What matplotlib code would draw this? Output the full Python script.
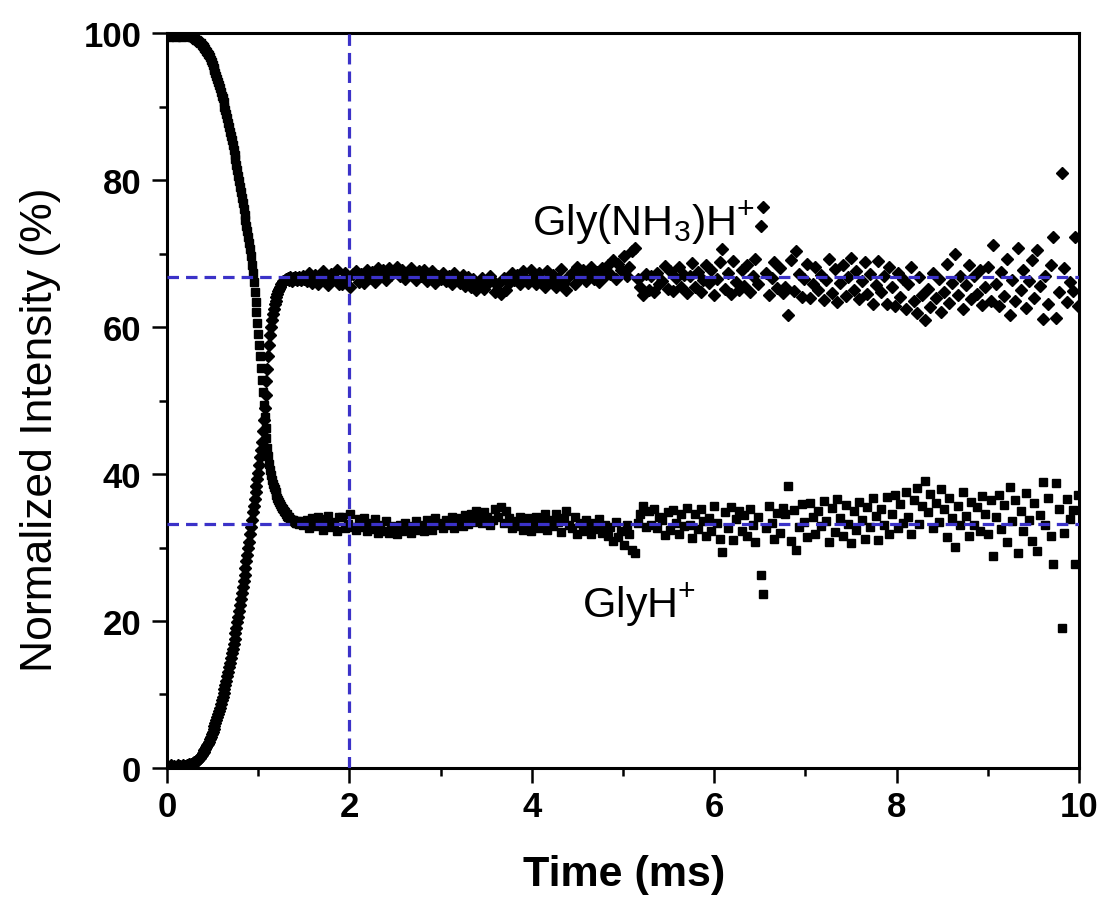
"""Normalized intensity of GlyH+ and Gly(NH3)H+ vs. reaction time."""
import numpy as np
import matplotlib
matplotlib.use("Agg")
import matplotlib.pyplot as plt

plt.rcParams.update({
    "font.family": ["Liberation Sans", "DejaVu Sans"],
    "mathtext.fontset": "custom",
    "mathtext.rm": "Liberation Sans",
    "mathtext.it": "Liberation Sans:italic",
    "mathtext.bf": "Liberation Sans:bold",
    "axes.linewidth": 2.2,
})

# sample times (ms): coarse at start, fine through the switch-over, then coarser
t_start = np.round(np.arange(0.0, 0.205, 0.02), 3)
t_switch = np.round(np.arange(0.21, 1.505, 0.01), 3)
t_flat = np.round(np.arange(1.53, 10.0, 0.03), 3)

# GlyH+ (squares)
glyh_start = [99.6, 99.5, 99.7, 99.6, 99.7, 99.5, 99.7, 99.6, 99.5, 99.7, 99.6]
glyh_switch = [
    99.7, 99.6, 99.7, 99.6, 99.6, 99.5, 99.5, 99.4, 99.4, 99.3,
    99.2, 99.1, 99.0, 98.9, 98.8, 98.7, 98.6, 98.4, 98.3, 98.1,
    98.0, 97.8, 97.6, 97.4, 97.2, 97.0, 96.7, 96.4, 96.0, 95.7,
    95.3, 95.0, 94.6, 94.2, 93.8, 93.4, 92.9, 92.5, 92.0, 91.5,
    91.1, 90.6, 90.0, 89.5, 89.0, 88.4, 87.8, 87.2, 86.6, 86.0,
    85.4, 84.8, 84.1, 83.4, 82.8, 82.1, 81.3, 80.6, 79.9, 79.1,
    78.4, 77.6, 76.9, 76.1, 75.3, 74.6, 73.8, 73.1, 72.3, 71.5,
    70.6, 69.6, 68.5, 67.3, 66.1, 64.8, 63.4, 62.0, 60.5, 59.0,
    57.5, 56.0, 54.4, 52.8, 51.1, 49.4, 47.8, 46.3, 44.9, 43.6,
    42.4, 41.4, 40.5, 39.8, 39.2, 38.7, 38.3, 37.9, 37.5, 37.1,
    36.8, 36.5, 36.2, 35.9, 35.6, 35.4, 35.2, 35.0, 34.8, 34.6,
    34.5, 34.3, 34.2, 34.1, 33.9, 33.8, 33.7, 33.7, 33.6, 33.5,
    33.4, 33.6, 33.3, 33.5, 33.2, 33.4, 33.6, 33.3, 33.1, 33.5,
]
glyh_flat = [
    33.8, 32.6, 34.0, 32.9, 34.2, 33.1, 32.4, 33.9, 34.3, 32.8,
    33.5, 32.3, 34.1, 34.2, 32.7, 33.2, 34.5, 32.8, 32.4, 33.9,
    32.8, 34.0, 32.2, 33.3, 32.5, 33.9, 32.0, 33.0, 32.3, 33.6,
    32.0, 32.9, 32.4, 31.9, 33.1, 32.2, 33.4, 32.6, 32.0, 32.9,
    33.6, 32.4, 33.1, 32.2, 33.8, 32.9, 32.4, 34.0, 33.1, 33.4,
    32.6, 33.8, 33.1, 34.2, 32.6, 33.6, 34.0, 32.9, 34.4, 33.2,
    34.6, 33.5, 35.0, 34.0, 33.3, 34.8, 34.2, 33.0, 33.7, 35.2,
    34.2, 35.5, 33.3, 34.9, 34.0, 32.7, 33.6, 32.9, 34.2, 32.4,
    33.3, 34.0, 32.3, 33.0, 34.2, 32.6, 33.6, 34.5, 32.4, 33.8,
    32.9, 34.6, 33.5, 32.1, 34.0, 34.9, 33.0, 32.6, 34.2, 31.8,
    33.3, 32.2, 33.8, 32.9, 31.9, 33.4, 32.5, 33.9, 32.0, 33.1,
    31.6, 32.8, 30.9, 33.5, 31.4, 32.2, 30.4, 33.0, 31.8, 29.6,
    29.2, 33.4, 34.6, 35.6, 32.8, 34.9, 33.1, 35.3, 32.6, 34.2,
    33.8, 31.7, 34.8, 32.4, 35.1, 33.3, 31.9, 34.5, 32.9, 35.4,
    33.0, 31.3, 34.6, 32.5, 35.2, 33.6, 31.6, 34.0, 32.2, 35.7,
    33.4, 31.2, 29.4, 34.8, 32.6, 35.5, 31.0, 33.9, 35.0, 32.3,
    34.4, 31.5, 35.3, 33.1, 30.8, 34.1, 26.3, 23.7, 32.7, 35.6,
    33.3, 31.1, 34.7, 32.0, 35.4, 34.5, 38.4, 30.9, 35.1, 29.7,
    32.8, 35.9, 33.5, 31.4, 36.1, 34.2, 31.8, 35.0, 32.9, 36.3,
    33.6, 30.8, 35.4, 32.1, 36.6, 34.0, 31.5, 35.8, 33.2, 30.6,
    34.9, 32.4, 36.2, 33.7, 31.2, 35.5, 32.8, 36.8, 34.3, 31.0,
    35.2, 33.0, 36.9, 31.8, 34.6, 37.2, 32.6, 35.9, 33.4, 37.5,
    34.1, 31.9, 36.4, 38.1, 33.2, 35.7, 39.0, 34.8, 37.3, 32.7,
    36.0, 33.5, 37.9, 35.2, 31.4, 36.7, 34.0, 30.1, 35.6, 33.1,
    37.6, 34.3, 31.6, 36.2, 33.0, 35.5, 32.2, 37.0, 34.6, 31.9,
    36.4, 28.8, 34.1, 37.1, 32.5, 35.8, 30.7, 38.3, 33.6, 36.5,
    29.3, 35.0, 32.3, 37.4, 33.8, 30.9, 36.1, 29.5, 34.4, 38.9,
    33.0, 36.8, 31.5, 27.7, 38.8, 35.3, 19.1, 32.0, 36.6, 33.9,
    35.1, 27.7, 37.2,
]

# Gly(NH3)H+ (diamonds)
nh3_start = [0.3, 0.1, 0.4, 0.2, 0.3, 0.1, 0.4, 0.3, 0.2, 0.4, 0.3]
nh3_switch = [
    0.3, 0.4, 0.3, 0.5, 0.4, 0.6, 0.5, 0.7, 0.6, 0.8,
    0.8, 0.9, 1.0, 1.1, 1.3, 1.4, 1.6, 1.8, 2.0, 2.2,
    2.4, 2.6, 2.8, 3.1, 3.3, 3.6, 3.9, 4.2, 4.6, 4.9,
    5.3, 5.7, 6.1, 6.5, 6.9, 7.3, 7.8, 8.2, 8.7, 9.2,
    9.7, 10.2, 10.7, 11.3, 11.9, 12.5, 13.1, 13.7, 14.3, 14.9,
    15.6, 16.2, 16.9, 17.6, 18.3, 19.0, 19.8, 20.6, 21.4, 22.2,
    23.0, 23.8, 24.6, 25.4, 26.3, 27.2, 28.1, 29.0, 29.9, 30.8,
    31.8, 32.8, 33.8, 34.8, 35.7, 36.6, 37.5, 38.4, 39.3, 40.2,
    41.2, 42.3, 43.3, 44.4, 45.8, 47.3, 49.0, 50.8, 52.6, 54.3,
    56.0, 57.5, 58.9, 60.0, 61.0, 61.8, 62.5, 63.1, 63.6, 64.1,
    64.5, 64.9, 65.2, 65.5, 65.8, 66.0, 66.2, 66.3, 66.4, 66.5,
    66.6, 66.5, 66.7, 66.4, 66.8, 66.6, 66.3, 66.7, 66.5, 66.8,
    66.6, 66.4, 66.7, 66.5, 66.8, 66.6, 66.4, 66.7, 66.9, 66.5,
]
nh3_flat = [
    66.2, 67.4, 66.0, 67.1, 65.8, 66.9, 67.6, 66.1, 65.7, 67.2,
    66.5, 67.7, 65.9, 65.8, 67.3, 66.8, 65.5, 67.2, 67.6, 66.1,
    67.2, 66.0, 67.8, 66.7, 67.5, 66.1, 68.0, 67.0, 67.7, 66.4,
    68.0, 67.1, 67.6, 68.1, 66.9, 67.8, 66.6, 67.4, 68.0, 67.1,
    66.4, 67.6, 66.9, 67.8, 66.2, 67.1, 67.6, 66.0, 66.9, 66.6,
    67.4, 66.2, 66.9, 65.8, 67.4, 66.4, 66.0, 67.1, 65.6, 66.8,
    65.4, 66.5, 65.0, 66.0, 66.7, 65.2, 65.8, 67.0, 66.3, 64.8,
    65.8, 64.5, 66.7, 65.1, 66.0, 67.3, 66.4, 67.1, 65.8, 67.6,
    66.7, 66.0, 67.7, 67.0, 65.8, 67.4, 66.4, 65.5, 67.6, 66.2,
    67.1, 65.4, 66.5, 67.9, 66.0, 65.1, 67.0, 67.4, 65.8, 68.2,
    66.7, 67.8, 66.2, 67.1, 68.1, 66.6, 67.5, 66.1, 68.0, 66.9,
    68.4, 67.2, 69.1, 66.5, 68.6, 67.8, 69.6, 67.0, 68.2, 70.4,
    70.8, 66.6, 65.4, 64.4, 67.2, 65.1, 66.9, 64.7, 67.4, 65.8,
    66.2, 68.3, 65.2, 67.6, 64.9, 66.7, 68.1, 65.5, 67.1, 64.6,
    67.0, 68.7, 65.4, 67.5, 64.8, 66.4, 68.4, 66.0, 67.8, 64.3,
    66.6, 68.8, 70.6, 65.2, 67.4, 64.5, 69.0, 66.1, 65.0, 67.7,
    65.6, 68.5, 64.7, 66.9, 69.2, 65.9, 73.7, 76.3, 67.3, 64.4,
    66.7, 68.9, 65.3, 68.0, 64.6, 65.5, 61.6, 69.1, 64.9, 70.3,
    67.2, 64.1, 66.5, 68.6, 63.9, 65.8, 68.2, 65.0, 67.1, 63.7,
    66.4, 69.2, 64.6, 67.9, 63.4, 66.0, 68.5, 64.2, 66.8, 69.4,
    65.1, 67.6, 63.8, 66.3, 68.8, 64.5, 67.2, 63.2, 65.7, 69.0,
    64.8, 67.0, 63.1, 68.2, 65.4, 62.8, 67.4, 64.1, 66.6, 62.5,
    65.9, 68.1, 63.6, 61.9, 66.8, 64.3, 61.0, 65.2, 62.7, 67.3,
    64.0, 66.5, 62.1, 64.8, 68.6, 63.3, 66.0, 69.9, 64.4, 66.9,
    62.4, 65.7, 68.4, 63.8, 67.0, 64.5, 67.8, 63.0, 65.4, 68.1,
    63.6, 71.2, 65.9, 62.9, 67.5, 64.2, 69.3, 61.7, 66.4, 63.5,
    70.7, 65.0, 67.7, 62.6, 66.2, 69.1, 63.9, 70.5, 65.6, 61.1,
    67.0, 63.2, 68.5, 72.3, 61.2, 64.7, 80.9, 68.0, 63.4, 66.1,
    64.9, 72.3, 62.8,
]

# reference guides
level_nh3 = 66.8
level_glyh = 33.2
t_mark = 2.0

x_ticks = [0, 2, 4, 6, 8, 10]
y_ticks = [0, 20, 40, 60, 80, 100]


def main() -> None:
    t = np.concatenate([t_start, t_switch, t_flat])
    glyh = np.concatenate([glyh_start, glyh_switch, glyh_flat])
    nh3 = np.concatenate([nh3_start, nh3_switch, nh3_flat])

    fig = plt.figure(figsize=(11.07, 9.03), dpi=100)
    ax = fig.add_axes([0.1509, 0.1484, 0.8238, 0.8139])

    ax.plot(t, glyh, ls="none", marker="s", ms=6.3, color="black", mec="black", zorder=2)
    ax.plot(t, nh3, ls="none", marker="D", ms=5.8, color="black", mec="black", zorder=2)

    guide = dict(color="#3b32c8", lw=2.3, dashes=(3.6, 2.2), zorder=3)
    ax.plot([0, 10], [level_nh3, level_nh3], **guide)
    ax.plot([0, 10], [level_glyh, level_glyh], **guide)
    ax.plot([t_mark, t_mark], [0, 100], **guide)

    ax.text(4.0, 72.6, "Gly(NH$_\\mathregular{3}$)H$^\\mathregular{+}$", fontsize=31)
    ax.text(4.55, 20.6, "GlyH$^\\mathregular{+}$", fontsize=31)

    ax.set_xlim(0, 10)
    ax.set_ylim(0, 100)
    ax.set_xticks(x_ticks)
    ax.set_yticks(y_ticks)
    ax.set_xticks([1, 3, 5, 7, 9], minor=True)
    ax.set_yticks([10, 30, 50, 70, 90], minor=True)
    ax.tick_params(which="both", direction="out", top=False, right=False)
    ax.tick_params(which="major", length=10.5, width=1.8, labelsize=25)
    ax.tick_params(which="minor", length=5.5, width=1.8)
    ax.tick_params(axis="x", pad=5)
    ax.tick_params(axis="y", pad=8)
    for lab in ax.get_xticklabels() + ax.get_yticklabels():
        lab.set_fontweight("bold")

    ax.set_xlabel("Time (ms)", fontsize=31, fontweight="bold")
    ax.set_ylabel("Normalized Intensity (%)", fontsize=32)
    ax.xaxis.set_label_coords(0.501, -0.117)
    ax.yaxis.set_label_coords(-0.116, 0.461)

    fig.savefig("out.png", dpi=100)


if __name__ == "__main__":
    main()
